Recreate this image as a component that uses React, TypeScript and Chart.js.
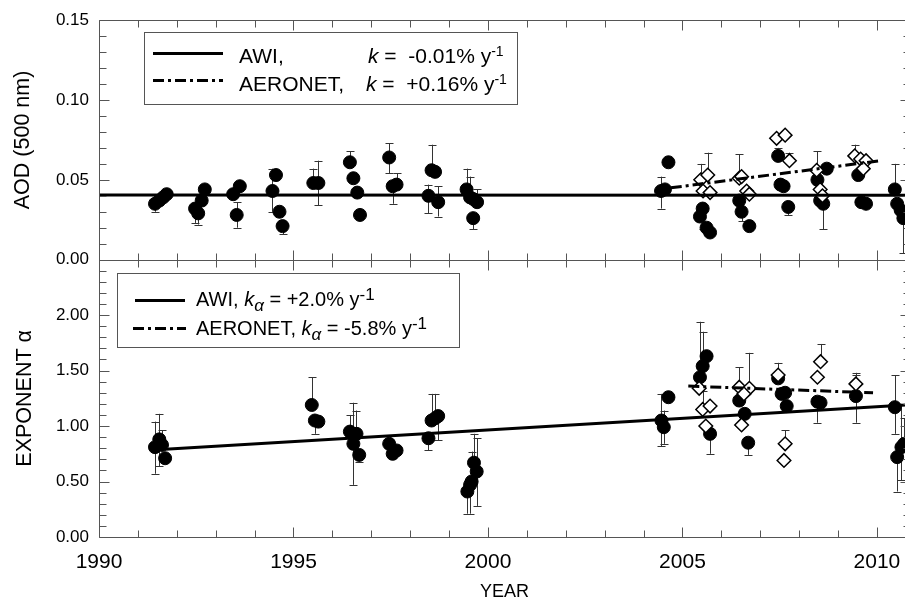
import React, { useEffect, useRef } from 'react';
import { Chart, registerables } from 'chart.js';

Chart.register(...registerables);

const FONT = "'Liberation Sans', Arial, Helvetica, sans-serif";

// [year, value, error-bar low end, error-bar high end]
type Row = [number, number, number | null, number | null];

const xTickYears = [1990, 1995, 2000, 2005, 2010];
const aodTicks = [0, 0.05, 0.1, 0.15];
const alphaTicks = [0, 0.5, 1.0, 1.5, 2.0, 2.5];

const awiAod: Row[] = [
  [1991.44, 0.035, 0.030, null], [1991.55, 0.037, null, null], [1991.65, 0.039, null, null], [1991.74, 0.041, null, null],
  [1992.47, 0.032, 0.023, null], [1992.55, 0.029, 0.022, null], [1992.64, 0.037, null, null], [1992.72, 0.044, null, null],
  [1993.45, 0.041, null, null], [1993.54, 0.028, 0.020, 0.036], [1993.62, 0.046, null, null],
  [1994.46, 0.043, 0.030, 0.057], [1994.55, 0.053, null, null], [1994.64, 0.030, null, null], [1994.72, 0.021, 0.016, null],
  [1995.51, 0.048, null, 0.057], [1995.64, 0.048, 0.034, 0.062],
  [1996.45, 0.061, null, 0.068], [1996.54, 0.051, null, null], [1996.64, 0.042, null, null], [1996.71, 0.028, null, null],
  [1997.46, 0.064, 0.054, 0.073], [1997.55, 0.046, 0.035, null], [1997.65, 0.047, null, 0.054],
  [1998.47, 0.040, 0.029, 0.047], [1998.55, 0.056, null, 0.072], [1998.64, 0.055, null, null], [1998.72, 0.036, 0.027, 0.046],
  [1999.45, 0.044, null, 0.057], [1999.54, 0.039, null, 0.052], [1999.62, 0.038, null, null], [1999.72, 0.036, null, 0.044], [1999.62, 0.026, 0.019, null],
  [2004.45, 0.043, 0.032, 0.052], [2004.55, 0.044, null, null], [2004.64, 0.061, null, null],
  [2005.45, 0.027, null, null], [2005.52, 0.032, 0.019, null], [2005.62, 0.020, null, null], [2005.71, 0.017, null, null],
  [2006.46, 0.037, null, null], [2006.52, 0.030, 0.024, null], [2006.72, 0.021, null, null],
  [2007.46, 0.065, null, 0.070], [2007.52, 0.047, null, null], [2007.60, 0.046, null, null], [2007.72, 0.033, 0.028, null],
  [2008.47, 0.050, null, null], [2008.54, 0.037, null, null], [2008.62, 0.035, 0.019, null], [2008.71, 0.057, null, null],
  [2009.52, 0.053, null, null], [2009.60, 0.036, null, null], [2009.72, 0.035, null, null],
  [2010.46, 0.044, null, 0.060], [2010.52, 0.035, null, null], [2010.61, 0.031, null, null], [2010.68, 0.026, 0.004, null],
];

const aeronetAod: Row[] = [
  [2005.47, 0.050, null, 0.060], [2005.65, 0.053, null, 0.067], [2005.53, 0.043, null, null], [2005.71, 0.042, null, null],
  [2006.46, 0.051, null, 0.066], [2006.52, 0.052, null, null], [2006.65, 0.043, null, null], [2006.72, 0.041, null, null],
  [2007.42, 0.076, null, null], [2007.64, 0.078, null, null], [2007.75, 0.062, null, 0.067],
  [2008.45, 0.056, null, 0.068], [2008.54, 0.044, null, null], [2008.60, 0.040, null, null],
  [2009.43, 0.065, null, 0.072], [2009.58, 0.063, null, null], [2009.72, 0.062, null, null], [2009.65, 0.057, null, null],
];

const awiAlpha: Row[] = [
  [1991.44, 0.81, 0.57, 1.04], [1991.55, 0.88, 0.64, 1.11], [1991.62, 0.83, null, 0.96], [1991.70, 0.71, null, null],
  [1995.47, 1.19, null, 1.44], [1995.55, 1.05, 0.93, null], [1995.64, 1.04, null, null],
  [1996.45, 0.95, null, 1.10], [1996.54, 0.84, 0.47, 1.21], [1996.62, 0.93, null, 1.14], [1996.69, 0.74, 0.68, null],
  [1997.46, 0.84, null, null], [1997.55, 0.75, null, null], [1997.65, 0.78, null, null],
  [1998.47, 0.89, 0.78, 0.93], [1998.55, 1.05, null, 1.29], [1998.64, 1.07, null, 1.29], [1998.72, 1.09, 0.87, null],
  [1999.47, 0.41, 0.21, null], [1999.54, 0.47, 0.21, null], [1999.58, 0.50, null, 0.77], [1999.64, 0.67, null, 0.93], [1999.71, 0.59, 0.28, 0.89],
  [2004.46, 1.05, 0.82, 1.29], [2004.52, 0.99, 0.84, 1.14], [2004.64, 1.26, null, null],
  [2005.45, 1.44, null, 1.94], [2005.52, 1.54, null, 1.85], [2005.62, 1.63, null, null], [2005.71, 0.93, 0.75, null],
  [2006.46, 1.23, null, null], [2006.60, 1.11, null, null], [2006.69, 0.85, 0.74, null],
  [2007.46, 1.43, null, null], [2007.55, 1.29, null, null], [2007.64, 1.30, null, null], [2007.68, 1.18, null, null],
  [2008.47, 1.22, 1.03, null], [2008.55, 1.21, null, null],
  [2009.46, 1.27, 1.03, 1.46],
  [2010.46, 1.17, 0.93, 1.46], [2010.52, 0.72, 0.41, null], [2010.63, 0.81, 0.51, 1.20], [2010.70, 0.84, null, 1.07],
];

const aeronetAlpha: Row[] = [
  [2005.43, 1.34, null, null], [2005.52, 1.15, null, 1.32], [2005.71, 1.18, null, null], [2005.60, 1.00, null, null],
  [2006.46, 1.35, null, 1.53], [2006.72, 1.34, null, 1.66], [2006.58, 1.29, null, null], [2006.52, 1.01, null, null],
  [2007.46, 1.46, null, 1.57], [2007.64, 0.84, null, 0.96], [2007.61, 0.69, null, null],
  [2008.55, 1.58, null, 1.74], [2008.47, 1.44, null, null],
  [2009.46, 1.38, null, 1.48],
];

const awiAodTrend = [[1990, 0.0405], [2010.85, 0.0403]];
const aeronetAodTrend = [[2004.7, 0.045], [2010.1, 0.062]];
const awiAlphaTrend = [[1991.7, 0.79], [2010.85, 1.192]];
const aeronetAlphaTrend = [[2005.15, 1.36], [2009.9, 1.30]];

const X_MIN = 1990;
const X_MAX = 2010.85;
const DASH_DOT = [11, 4, 3, 4];

const toPts = (rows: Row[]) => rows.map(([x, y, lo, hi]) => ({ x, y, lo, hi }));
const toLine = (rows: number[][]) => rows.map(([x, y]) => ({ x, y }));

const panelPlugin = {
  id: 'panelFrames',
  beforeDatasetsDraw(chart: any) {
    const ctx = chart.ctx;
    const xs = chart.scales.x;
    ctx.save();
    ctx.strokeStyle = '#333';
    ctx.lineWidth = 1;
    chart.data.datasets.forEach((ds: any) => {
      if (!ds.errorBars) return;
      const ys = chart.scales[ds.yAxisID];
      ds.data.forEach((p: any) => {
        if (p.lo == null && p.hi == null) return;
        const x = Math.round(xs.getPixelForValue(p.x)) + 0.5;
        const y0 = ys.getPixelForValue(p.lo ?? p.y);
        const y1 = ys.getPixelForValue(p.hi ?? p.y);
        ctx.beginPath();
        ctx.moveTo(x, y0);
        ctx.lineTo(x, y1);
        if (p.lo != null) {
          const yy = Math.round(y0) + 0.5;
          ctx.moveTo(x - 4, yy);
          ctx.lineTo(x + 4, yy);
        }
        if (p.hi != null) {
          const yy = Math.round(y1) + 0.5;
          ctx.moveTo(x - 4, yy);
          ctx.lineTo(x + 4, yy);
        }
        ctx.stroke();
      });
    });
    ctx.restore();
  },
  afterDraw(chart: any) {
    const ctx = chart.ctx;
    const xs = chart.scales.x;
    const yT = chart.scales.yTop;
    const yB = chart.scales.yBot;
    const L = Math.round(chart.chartArea.left) + 0.5;
    const R = Math.round(chart.chartArea.right) + 0.5;
    const hEdges = [
      { y: Math.round(yT.top) + 0.5, dir: 1 },
      { y: Math.round(yT.bottom) + 0.5, dir: -1 },
      { y: Math.round(yB.top) + 0.5, dir: 1 },
      { y: Math.round(yB.bottom) + 0.5, dir: -1 },
    ];
    ctx.save();
    ctx.strokeStyle = '#555';
    ctx.lineWidth = 1;
    ctx.beginPath();
    hEdges.forEach((e) => {
      ctx.moveTo(L, e.y);
      ctx.lineTo(R, e.y);
    });
    ctx.moveTo(L, hEdges[0].y);
    ctx.lineTo(L, hEdges[3].y);
    ctx.moveTo(R, hEdges[0].y);
    ctx.lineTo(R, hEdges[3].y);
    for (let yr = 1990; yr <= 2010; yr++) {
      const px = Math.round(xs.getPixelForValue(yr)) + 0.5;
      const len = yr % 5 === 0 ? 10 : 7;
      hEdges.forEach((e) => {
        ctx.moveTo(px, e.y);
        ctx.lineTo(px, e.y + e.dir * len);
      });
    }
    for (let i = 0; i <= 15; i++) {
      const py = Math.round(yT.getPixelForValue(i / 100)) + 0.5;
      const len = i % 5 === 0 ? 10 : 7;
      ctx.moveTo(L, py);
      ctx.lineTo(L + len, py);
      ctx.moveTo(R, py);
      ctx.lineTo(R - len, py);
    }
    for (let i = 0; i <= 25; i++) {
      const py = Math.round(yB.getPixelForValue(i / 10)) + 0.5;
      const len = i % 5 === 0 ? 10 : 7;
      ctx.moveTo(L, py);
      ctx.lineTo(L + len, py);
      ctx.moveTo(R, py);
      ctx.lineTo(R - len, py);
    }
    ctx.stroke();
    ctx.restore();
  },
};

const circleStyle = {
  pointStyle: 'circle',
  pointRadius: 6.5,
  backgroundColor: '#000',
  borderColor: '#000',
  borderWidth: 1,
  showLine: false,
  errorBars: true,
};
const diamondStyle = {
  pointStyle: 'rectRot',
  pointRadius: 6.8,
  backgroundColor: '#fff',
  borderColor: '#000',
  borderWidth: 1.5,
  showLine: false,
  errorBars: true,
};
const trendStyle = {
  showLine: true,
  pointRadius: 0,
  borderColor: '#000',
  borderWidth: 3,
  fill: false,
};

function ChartCanvas() {
  const ref = useRef<HTMLCanvasElement | null>(null);
  useEffect(() => {
    if (!ref.current) return;
    const chart = new Chart(ref.current, {
      type: 'scatter',
      data: {
        datasets: [
          { ...trendStyle, label: 'AWI AOD trend', data: toLine(awiAodTrend), yAxisID: 'yTop' },
          { ...trendStyle, label: 'AERONET AOD trend', data: toLine(aeronetAodTrend), yAxisID: 'yTop', borderDash: DASH_DOT },
          { ...trendStyle, label: 'AWI alpha trend', data: toLine(awiAlphaTrend), yAxisID: 'yBot' },
          { ...trendStyle, label: 'AERONET alpha trend', data: toLine(aeronetAlphaTrend), yAxisID: 'yBot', borderDash: DASH_DOT },
          { ...diamondStyle, label: 'AERONET AOD', data: toPts(aeronetAod), yAxisID: 'yTop' },
          { ...diamondStyle, label: 'AERONET alpha', data: toPts(aeronetAlpha), yAxisID: 'yBot' },
          { ...circleStyle, label: 'AWI AOD', data: toPts(awiAod), yAxisID: 'yTop' },
          { ...circleStyle, label: 'AWI alpha', data: toPts(awiAlpha), yAxisID: 'yBot' },
        ] as any,
      },
      options: {
        animation: false,
        responsive: false,
        events: [],
        layout: { padding: { left: 0, right: 15, top: 19, bottom: 0 } },
        plugins: { legend: { display: false }, tooltip: { enabled: false } },
        scales: {
          x: {
            type: 'linear',
            min: X_MIN,
            max: X_MAX,
            afterBuildTicks: (s: any) => {
              s.ticks = xTickYears.map((v) => ({ value: v }));
            },
            afterFit: (s: any) => {
              s.height = 63;
            },
            ticks: {
              autoSkip: false,
              maxRotation: 0,
              padding: 13,
              color: '#000',
              font: { family: FONT, size: 21 },
              callback: (v: any) => String(v),
            },
            grid: { display: false, drawTicks: false },
            border: { display: false },
            title: {
              display: true,
              text: 'YEAR',
              color: '#000',
              font: { family: FONT, size: 18, lineHeight: 1 },
              padding: { top: 0, bottom: -1 },
            },
          },
          yBot: {
            type: 'linear',
            position: 'left',
            stack: 'panels',
            stackWeight: 278,
            min: 0,
            max: 2.5,
            afterBuildTicks: (s: any) => {
              s.ticks = alphaTicks.map((v) => ({ value: v }));
            },
            afterFit: (s: any) => {
              s.width = 99;
            },
            ticks: {
              autoSkip: false,
              padding: 10,
              color: '#000',
              font: { family: FONT, size: 17 },
              callback: (v: any) => (Number(v) >= 2.5 ? '' : Number(v).toFixed(2)),
            },
            grid: { display: false, drawTicks: false },
            border: { display: false },
            title: {
              display: true,
              text: 'EXPONENT α',
              color: '#000',
              font: { family: FONT, size: 21.5 },
              padding: { top: 12, bottom: 0 },
            },
          },
          yTop: {
            type: 'linear',
            position: 'left',
            stack: 'panels',
            stackWeight: 240,
            min: 0,
            max: 0.15,
            afterBuildTicks: (s: any) => {
              s.ticks = aodTicks.map((v) => ({ value: v }));
            },
            afterFit: (s: any) => {
              s.width = 99;
            },
            ticks: {
              autoSkip: false,
              padding: 10,
              color: '#000',
              font: { family: FONT, size: 17 },
              callback: (v: any) => Number(v).toFixed(2),
            },
            grid: { display: false, drawTicks: false },
            border: { display: false },
            title: {
              display: true,
              text: 'AOD (500 nm)',
              color: '#000',
              font: { family: FONT, size: 21.5 },
              padding: { top: 10, bottom: 0 },
            },
          },
        },
      } as any,
      plugins: [panelPlugin as any],
    });
    return () => chart.destroy();
  }, []);
  return <canvas ref={ref} width={925} height={600} style={{ display: 'block', width: 925, height: 600 }} />;
}

const abs = (left: number, top: number, size: number, extra: any = {}) => ({
  position: 'absolute' as const,
  left,
  top,
  fontSize: size,
  lineHeight: `${size}px`,
  fontFamily: FONT,
  color: '#000',
  whiteSpace: 'pre' as const,
  ...extra,
});

const supStyle = (size: number, raise: number) => ({
  fontSize: size,
  position: 'relative' as const,
  top: -raise,
});

function Legends() {
  return (
    <>
      <div style={{ position: 'absolute', left: 144, top: 32, width: 374, height: 73, border: '1px solid #555', boxSizing: 'border-box', background: '#fff' }} />
      <div style={{ position: 'absolute', left: 117, top: 273, width: 343, height: 75, border: '1px solid #555', boxSizing: 'border-box', background: '#fff' }} />
      <svg width={905} height={600} style={{ position: 'absolute', left: 0, top: 0, pointerEvents: 'none' }}>
        <line x1={153} y1={53.5} x2={223} y2={53.5} stroke="#000" strokeWidth={3} />
        <line x1={153} y1={80.5} x2={223} y2={80.5} stroke="#000" strokeWidth={3} strokeDasharray={DASH_DOT.join(' ')} />
        <line x1={135} y1={300.5} x2={185} y2={300.5} stroke="#000" strokeWidth={3} />
        <line x1={133} y1={328.5} x2={186} y2={328.5} stroke="#000" strokeWidth={3} strokeDasharray={DASH_DOT.join(' ')} />
      </svg>
      <span style={abs(239, 45, 21)}>AWI,</span>
      <span style={abs(368, 45, 21)}>
        <i>k</i> =  -0.01% y<span style={supStyle(14, 7)}>-1</span>
      </span>
      <span style={abs(239, 73, 21)}>AERONET,</span>
      <span style={abs(366, 73, 21)}>
        <i>k</i> =  +0.16% y<span style={supStyle(14, 7)}>-1</span>
      </span>
      <span style={abs(196, 289, 20)}>
        AWI, <i>k</i><i style={{ fontSize: 17, position: 'relative', top: 5 }}>α</i> = +2.0% y<span style={supStyle(17, 6)}>-1</span>
      </span>
      <span style={abs(196, 318, 20)}>
        AERONET, <i>k</i><i style={{ fontSize: 17, position: 'relative', top: 5 }}>α</i> = -5.8% y<span style={supStyle(17, 6)}>-1</span>
      </span>
    </>
  );
}

export default function App() {
  return (
    <div style={{ position: 'absolute', left: 0, top: 0, width: 905, height: 600, overflow: 'hidden', background: '#fff' }}>
      <ChartCanvas />
      <Legends />
    </div>
  );
}
